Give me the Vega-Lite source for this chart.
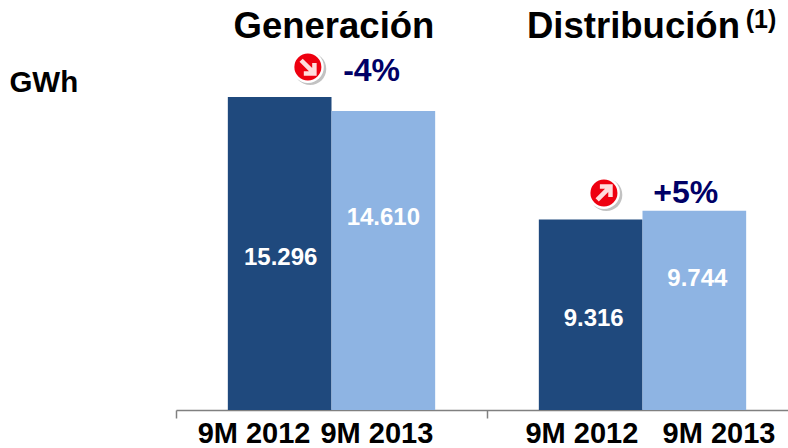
{
"$schema":"https://vega.github.io/schema/vega-lite/v6.json",
"width":612,"height":410,
"autosize":{"type":"none"},
"padding":{"left":176,"top":0,"right":0,"bottom":38},
"background":"white",
"view":{"stroke":null},
"config":{"text":{"font":"Liberation Sans","fontWeight":"bold","align":"center","baseline":"middle"}},
"datasets":{
"bars":[
{"segment":"Generación","period":"9M 2012","gwh":15296,"label":"15.296"},
{"segment":"Generación","period":"9M 2013","gwh":14610,"label":"14.610"},
{"segment":"Distribución","period":"9M 2012","gwh":9316,"label":"9.316"},
{"segment":"Distribución","period":"9M 2013","gwh":9744,"label":"9.744"}],
"cats":[
{"t":"9M 2012","pos":0.251,"gwh":-1150},
{"t":"9M 2013","pos":0.646,"gwh":-1150},
{"t":"9M 2012","pos":1.305,"gwh":-1150},
{"t":"9M 2013","pos":1.746,"gwh":-1150}],
"titles":[
{"t":"Generación","pos":0.508,"gwh":18719},
{"t":"Distribución","pos":1.471,"gwh":18719}],
"sup":[{"t":"(1)","pos":1.881,"gwh":19061}],
"unit":[{"t":"GWh","pos":-0.425,"gwh":15958}],
"change":[
{"t":"-4%","pos":0.629,"gwh":16569},
{"t":"+5%","pos":1.639,"gwh":10606}],
"down":[{"pos":0.424,"gwh":16764}],
"up":[{"pos":1.376,"gwh":10606}],
"icons":[{"pos":0.424,"gwh":16764},{"pos":1.376,"gwh":10606}]
},
"encoding":{
"x":{"field":"pos","type":"quantitative","scale":{"domain":[0,2],"range":[0,622]},"axis":null},
"y":{"field":"gwh","type":"quantitative","scale":{"domain":[0,20039],"range":[410,0]},"axis":null}
},
"layer":[
{"data":{"name":"bars"},"mark":{"type":"bar"},
 "encoding":{
  "x":{"field":"segment","type":"nominal","sort":["Generación","Distribución"],"scale":{"type":"band","range":[0,622],"paddingInner":0,"paddingOuter":0},
   "axis":{"title":null,"labels":false,"domainColor":"#808080","domainWidth":1.5,"tickColor":"#808080","tickWidth":1.5,"tickSize":8,"bandPosition":0,"grid":false}},
  "xOffset":{"field":"period","type":"nominal","scale":{"paddingOuter":0.5,"paddingInner":0}},
  "color":{"field":"period","type":"nominal","legend":null,"scale":{"domain":["9M 2012","9M 2013"],"range":["#1F497D","#8EB4E3"]}}}},
{"data":{"name":"icons"},"mark":{"type":"point","filled":true,"opacity":0.45,"color":"#777777","shape":"M 0.14 0.12 m -1 0 a 1 1 0 1 0 2 0 a 1 1 0 1 0 -2 0 Z"},"encoding":{"size":{"value":1040}}},
{"data":{"name":"icons"},"mark":{"type":"point","filled":true,"opacity":1,"color":"#FFFFFF","shape":"circle"},"encoding":{"size":{"value":1020}}},
{"data":{"name":"icons"},"mark":{"type":"point","filled":true,"opacity":1,"color":"#EE0010","shape":"circle"},"encoding":{"size":{"value":730}}},
{"data":{"name":"down"},"mark":{"type":"point","filled":true,"opacity":1,"color":"#FFDDDD","shape":"M -0.62 -0.38 L -0.38 -0.62 L 0.32 0.08 L 0.32 -0.3 L 0.65 -0.3 L 0.65 0.65 L -0.3 0.65 L -0.3 0.32 L 0.08 0.32 Z"},"encoding":{"size":{"value":730}}},
{"data":{"name":"up"},"mark":{"type":"point","filled":true,"opacity":1,"color":"#FFDDDD","shape":"M -0.62 0.38 L -0.38 0.62 L 0.32 -0.08 L 0.32 0.3 L 0.65 0.3 L 0.65 -0.65 L -0.3 -0.65 L -0.3 -0.32 L 0.08 -0.32 Z"},"encoding":{"size":{"value":730}}},
{"data":{"name":"cats"},"mark":{"type":"text","fontSize":29,"color":"#000000"},"encoding":{"text":{"field":"t"}}},
{"data":{"name":"titles"},"mark":{"type":"text","fontSize":36.5,"color":"#000000"},"encoding":{"text":{"field":"t"}}},
{"data":{"name":"sup"},"mark":{"type":"text","fontSize":25,"color":"#000000"},"encoding":{"text":{"field":"t"}}},
{"data":{"name":"unit"},"mark":{"type":"text","fontSize":29.5,"color":"#000000"},"encoding":{"text":{"field":"t"}}},
{"data":{"name":"change"},"mark":{"type":"text","fontSize":32,"color":"#000066"},"encoding":{"text":{"field":"t"}}},
{"data":{"name":"bars"},"transform":[{"filter":"datum.label==='15.296'"}],"mark":{"type":"text","fontSize":24,"color":"#FFFFFF","dy":161,"dx":1},
 "encoding":{"x":{"field":"segment","type":"nominal","sort":["Generación","Distribución"],"scale":{"type":"band","domain":["Generación","Distribución"],"range":[0,622],"paddingInner":0,"paddingOuter":0},"axis":null},"xOffset":{"field":"period","type":"nominal","scale":{"domain":["9M 2012","9M 2013"],"paddingOuter":0.5,"paddingInner":0}},"text":{"field":"label"}}},
{"data":{"name":"bars"},"transform":[{"filter":"datum.label==='14.610'"}],"mark":{"type":"text","fontSize":24,"color":"#FFFFFF","dy":107},
 "encoding":{"x":{"field":"segment","type":"nominal","sort":["Generación","Distribución"],"scale":{"type":"band","domain":["Generación","Distribución"],"range":[0,622],"paddingInner":0,"paddingOuter":0},"axis":null},"xOffset":{"field":"period","type":"nominal","scale":{"domain":["9M 2012","9M 2013"],"paddingOuter":0.5,"paddingInner":0}},"text":{"field":"label"}}},
{"data":{"name":"bars"},"transform":[{"filter":"datum.label==='9.316'"}],"mark":{"type":"text","fontSize":24,"color":"#FFFFFF","dy":100,"dx":3},
 "encoding":{"x":{"field":"segment","type":"nominal","sort":["Generación","Distribución"],"scale":{"type":"band","domain":["Generación","Distribución"],"range":[0,622],"paddingInner":0,"paddingOuter":0},"axis":null},"xOffset":{"field":"period","type":"nominal","scale":{"domain":["9M 2012","9M 2013"],"paddingOuter":0.5,"paddingInner":0}},"text":{"field":"label"}}},
{"data":{"name":"bars"},"transform":[{"filter":"datum.label==='9.744'"}],"mark":{"type":"text","fontSize":24,"color":"#FFFFFF","dy":68,"dx":3},
 "encoding":{"x":{"field":"segment","type":"nominal","sort":["Generación","Distribución"],"scale":{"type":"band","domain":["Generación","Distribución"],"range":[0,622],"paddingInner":0,"paddingOuter":0},"axis":null},"xOffset":{"field":"period","type":"nominal","scale":{"domain":["9M 2012","9M 2013"],"paddingOuter":0.5,"paddingInner":0}},"text":{"field":"label"}}}
],
"resolve":{"scale":{"x":"independent"}}
}
